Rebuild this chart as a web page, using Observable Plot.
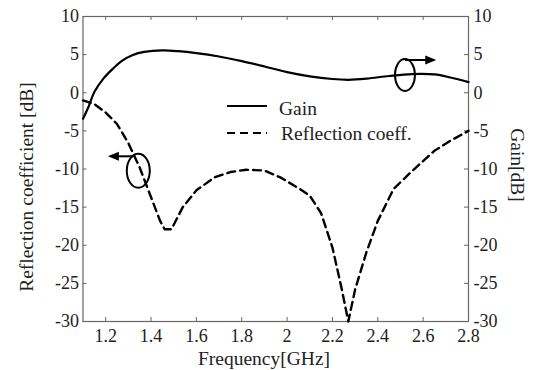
<!DOCTYPE html>
<html><head><meta charset="utf-8">
<script src="https://cdn.jsdelivr.net/npm/d3@7"></script>
<script src="https://cdn.jsdelivr.net/npm/@observablehq/plot@0.6"></script>
<style>
body{margin:0;background:#fff;font-family:'Liberation Serif';}
#chart svg{display:block;}
#chart svg text{font-family:'Liberation Serif' !important;}
</style>
</head><body><div id="chart"></div>
<script>
// Gain curve (right axis, dB)
const gainFreq = [1.10,1.125,1.15,1.19,1.23,1.27,1.32,1.37,1.45,1.52,1.60,1.70,1.80,1.90,2.00,2.10,2.20,2.27,2.35,2.45,2.55,2.65,2.72,2.80];
const gainDb   = [-3.4,-1.8,0.1,1.85,3.1,4.15,4.95,5.35,5.55,5.45,5.2,4.75,4.15,3.45,2.7,2.15,1.8,1.7,1.85,2.2,2.45,2.4,2.0,1.4];
// Reflection coefficient (left axis, dB)
const reflFreq = [1.10,1.15,1.20,1.25,1.30,1.35,1.40,1.44,1.46,1.49,1.54,1.60,1.68,1.75,1.82,1.90,1.97,2.05,2.10,2.15,2.20,2.24,2.27,2.30,2.35,2.40,2.47,2.55,2.65,2.72,2.80];
const reflDb   = [-1.0,-1.5,-2.6,-4.1,-6.6,-9.8,-13.7,-16.8,-17.9,-17.9,-15.0,-12.8,-11.1,-10.4,-10.1,-10.2,-11.1,-12.5,-13.5,-15.8,-20.3,-25.6,-30.0,-25.8,-20.9,-16.8,-12.6,-10.3,-7.6,-6.3,-5.0];
const xTicks = [1.2,1.4,1.6,1.8,2.0,2.2,2.4,2.6,2.8];
const yTicks = [-30,-25,-20,-15,-10,-5,0,5,10];
const seriesNames = ["Gain","Reflection coeff."];
const xTitle = "Frequency[GHz]";
const yLeftTitle = "Reflection coefficient [dB]";
const yRightTitle = "Gain[dB]";
// annotation markers: [freq, dB] ellipse centers and arrow ends
const markerLeft = {cx:1.346, cy:-10.3, arrowY:-8.4, from:1.322, to:1.212};
const markerRight = {cx:2.522, cy:2.26, arrowY:4.23, from:2.522, to:2.66};

const gainData = gainFreq.map((f,i)=>({f, v:gainDb[i]}));
const reflData = reflFreq.map((f,i)=>({f, v:reflDb[i]}));

const W = 536, H = 370, mL = 82.5, mR = 68, mT = 16, mB = 49;
const pw = W - mL - mR, ph = H - mT - mB;
const FONT = "Liberation Serif";
const TXT = "#222";
const TICK_FS = 18, LABEL_FS = 19.5;

function overlay(index, scales) {
  const x = scales.x, y = scales.y;
  const g = d3.create("svg:g").attr("font-family", FONT).attr("font-size", LABEL_FS).attr("fill", TXT).attr("text-anchor", "start");
  for (const m of [markerLeft, markerRight]) {
    const rx = m === markerLeft ? 11.5 : 10, ry = m === markerLeft ? 17 : 16;
    g.append("ellipse").attr("cx", x(m.cx)).attr("cy", y(m.cy)).attr("rx", rx).attr("ry", ry)
      .attr("fill", "none").attr("stroke", "#000").attr("stroke-width", 2);
    const x1 = x(m.from), x2 = x(m.to), yy = y(m.arrowY);
    const dir = Math.sign(x2 - x1);
    g.append("line").attr("x1", x1).attr("x2", x2 - dir*8).attr("y1", yy).attr("y2", yy)
      .attr("stroke", "#000").attr("stroke-width", 2);
    g.append("path").attr("d", `M${x2},${yy}L${x2-dir*11},${yy-4.5}L${x2-dir*11},${yy+4.5}Z`).attr("fill", "#000");
  }
  const lx1 = 227, lx2 = 267, tx = 279;
  g.append("line").attr("x1", lx1).attr("x2", lx2).attr("y1", 106).attr("y2", 106).attr("stroke", "#000").attr("stroke-width", 2.2);
  g.append("line").attr("x1", lx1).attr("x2", lx2).attr("y1", 133).attr("y2", 133).attr("stroke", "#000").attr("stroke-width", 2.2).attr("stroke-dasharray", "8,5");
  g.append("text").attr("x", tx).attr("y", 115).attr("text-anchor", "start").text(seriesNames[0]);
  g.append("text").attr("x", tx + 2).attr("y", 139.5).attr("text-anchor", "start").text(seriesNames[1]);
  g.append("text").attr("x", 264).attr("y", 365).attr("text-anchor", "middle").text(xTitle);
  g.append("text").attr("transform", "translate(26,187) rotate(-90)").attr("text-anchor", "middle").attr("dy", "0.35em").text(yLeftTitle);
  g.append("text").attr("transform", "translate(518,165) rotate(90)").attr("text-anchor", "middle").attr("dy", "0.35em").text(yRightTitle);
  return g.node();
}

const plot = Plot.plot({
  width: W, height: H,
  marginLeft: mL, marginRight: mR, marginTop: mT, marginBottom: mB,
  style: {fontFamily: FONT, fontSize: TICK_FS + "px", color: TXT, background: "#fff", overflow: "visible"},
  x: {domain: [1.1, 2.8]},
  y: {domain: [-30, 10]},
  marks: [
    Plot.axisX({anchor: "bottom", ticks: xTicks, tickSize: 0, tickPadding: 8, tickFormat: d => String(d), label: null, fontSize: TICK_FS}),
    Plot.axisY({anchor: "left", ticks: yTicks, tickSize: 0, tickPadding: 4, tickFormat: d => String(d), label: null, fontSize: TICK_FS}),
    Plot.axisY({anchor: "right", ticks: yTicks, tickSize: 0, tickPadding: 5, tickFormat: d => String(d), label: null, fontSize: TICK_FS}),
    Plot.tickX(xTicks, {x: d => d, insetTop: ph - 4, stroke: "#666"}),
    Plot.tickX(xTicks, {x: d => d, insetBottom: ph - 4, stroke: "#666"}),
    Plot.tickY(yTicks, {y: d => d, insetRight: pw - 4, stroke: "#666"}),
    Plot.tickY(yTicks, {y: d => d, insetLeft: pw - 4, stroke: "#666"}),
    Plot.frame({stroke: "#666", strokeWidth: 1.2}),
    Plot.line(reflData, {x: "f", y: "v", stroke: "#000", strokeWidth: 2.4, strokeDasharray: "8,5", curve: "linear"}),
    Plot.line(gainData, {x: "f", y: "v", stroke: "#000", strokeWidth: 2.2, curve: "catmull-rom"}),
    overlay
  ]
});
document.getElementById("chart").appendChild(plot);
</script>
</body></html>
